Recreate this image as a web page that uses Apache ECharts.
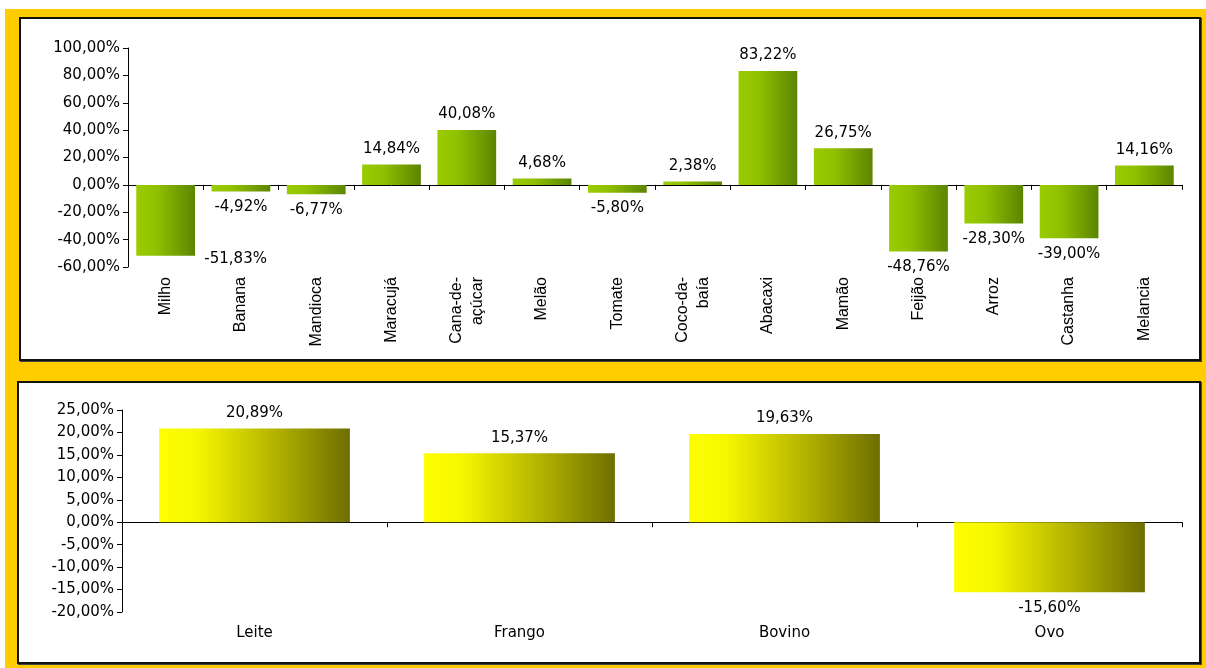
<!DOCTYPE html>
<html>
<head>
<meta charset="utf-8">
<script src="https://cdn.jsdelivr.net/npm/echarts@6/dist/echarts.min.js"></script>
<style>
  html, body { margin: 0; padding: 0; background: #fff; }
  .moldura { position: absolute; left: 5px; top: 9px; width: 1201px; height: 659px; background: #ffcc00; }
  .painel { position: absolute; background: #fff; border: 2px solid #111; box-shadow: 1px 1px 0 #444; box-sizing: border-box; }
  #chart { position: absolute; left: 0; top: 0; width: 1206px; height: 668px; }
</style>
</head>
<body>
<div class="moldura"></div>
<div class="painel" style="left:19px;top:17px;width:1182px;height:344px"></div>
<div class="painel" style="left:17px;top:381px;width:1184px;height:283px"></div>
<div id="chart"></div>
<script>
  // variação - produtos agrícolas
  let produtos = ['Milho','Banana','Mandioca','Maracujá','Cana-de-\naçúcar','Melão','Tomate','Coco-da-\nbaía','Abacaxi','Mamão','Feijão','Arroz','Castanha','Melancia'];
  let varProdutos = [-51.83, -4.92, -6.77, 14.84, 40.08, 4.68, -5.80, 2.38, 83.22, 26.75, -48.76, -28.30, -39.00, 14.16];
  // variação - pecuária
  let animais = ['Leite','Frango','Bovino','Ovo'];
  let varAnimais = [20.89, 15.37, 19.63, -15.60];
  // escalas
  let ticksTopo = [-60, 100, 20];
  let ticksBaixo = [-20, 25, 5];

  let fmt = v => v.toFixed(2).replace('.', ',') + '%';
  let fonte = 'DejaVu Sans';

  let verde = new echarts.graphic.LinearGradient(0, 0, 1, 0, [
    {offset: 0, color: '#9acc00'},
    {offset: 0.35, color: '#90c000'},
    {offset: 1, color: '#5c8500'}
  ]);
  let amarelo = new echarts.graphic.LinearGradient(0, 0, 1, 0, [
    {offset: 0, color: '#ffff00'},
    {offset: 0.2, color: '#f6f600'},
    {offset: 0.6, color: '#b4b400'},
    {offset: 1, color: '#6e6e00'}
  ]);

  function rotulo(v, i, extra) {
    let item = {
      value: v,
      label: {position: v >= 0 ? 'top' : 'bottom'}
    };
    if (extra && extra[i]) item.label.offset = extra[i];
    return item;
  }

  // Excel afastou o rótulo do milho para a direita
  let deslocar = {0: [70, -12]};

  let eixoY = (r, idx) => ({
    type: 'value',
    gridIndex: idx,
    min: r[0], max: r[1], interval: r[2],
    axisLine: {show: true, lineStyle: {color: '#000', width: 1}},
    axisTick: {show: true, length: 5, lineStyle: {color: '#000'}},
    splitLine: {show: false},
    axisLabel: {formatter: fmt, color: '#000', fontFamily: fonte, fontSize: 15, margin: 8}
  });

  let option = {
    animation: false,
    backgroundColor: 'transparent',
    grid: [
      {left: 128, right: 24, top: 48, bottom: 401},
      {left: 122, right: 24, top: 410, bottom: 56}
    ],
    xAxis: [
      {
        type: 'category', gridIndex: 0, data: produtos, position: 'bottom',
        axisLine: {show: false, onZero: false}, axisTick: {show: false},
        axisLabel: {interval: 0, rotate: 90, margin: 10, color: '#000', fontFamily: 'Liberation Sans', fontSize: 16, lineHeight: 21}
      },
      {
        type: 'category', gridIndex: 0, data: produtos, position: 'bottom',
        axisLine: {show: true, onZero: true, lineStyle: {color: '#000', width: 1}},
        axisTick: {show: true, length: 5, lineStyle: {color: '#000'}},
        axisLabel: {show: false}
      },
      {
        type: 'category', gridIndex: 1, data: animais, position: 'bottom',
        axisLine: {show: false, onZero: false}, axisTick: {show: false},
        axisLabel: {interval: 0, margin: 14, color: '#000', fontFamily: fonte, fontSize: 15}
      },
      {
        type: 'category', gridIndex: 1, data: animais, position: 'bottom',
        axisLine: {show: true, onZero: true, lineStyle: {color: '#000', width: 1}},
        axisTick: {show: true, length: 5, lineStyle: {color: '#000'}},
        axisLabel: {show: false}
      }
    ],
    yAxis: [eixoY(ticksTopo, 0), eixoY(ticksBaixo, 1)],
    series: [
      {
        type: 'bar', xAxisIndex: 0, yAxisIndex: 0,
        barCategoryGap: '22%',
        itemStyle: {color: verde},
        label: {show: true, distance: 8, formatter: p => fmt(p.value), color: '#000', fontFamily: fonte, fontSize: 15},
        data: varProdutos.map((v, i) => rotulo(v, i, deslocar))
      },
      {
        type: 'bar', xAxisIndex: 2, yAxisIndex: 1,
        barCategoryGap: '28%',
        itemStyle: {color: amarelo},
        label: {show: true, distance: 8, formatter: p => fmt(p.value), color: '#000', fontFamily: fonte, fontSize: 15},
        data: varAnimais.map((v, i) => rotulo(v, i))
      }
    ]
  };

  let chart = echarts.init(document.getElementById('chart'));
  chart.setOption(option);
</script>
</body>
</html>
